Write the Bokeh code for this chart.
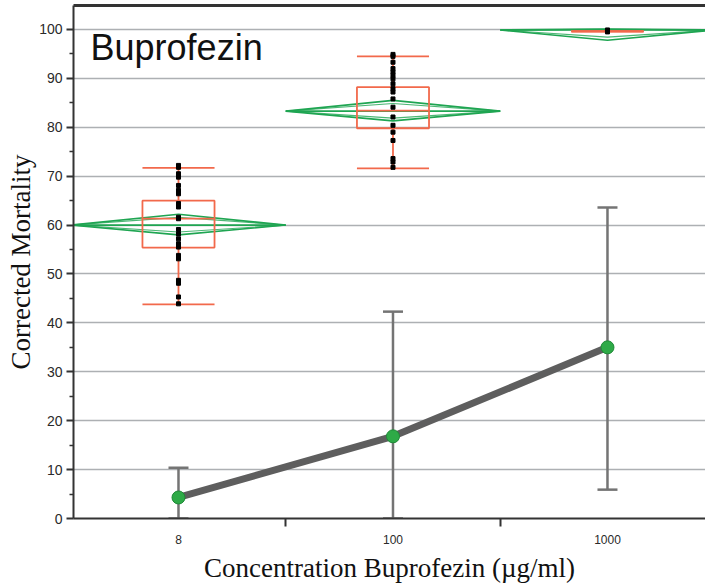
import math
from bokeh.plotting import figure
from bokeh.models import FixedTicker, LinearAxis, Range1d, Whisker, TeeHead, ColumnDataSource, Label
from bokeh.embed import file_html
from bokeh.resources import INLINE

# ---------------- data ----------------
categories = ["8", "100", "1000"]

# box plots (corrected mortality)
whisker_low = [43.8, 71.6, 99.6]
q1 = [55.4, 79.8, 99.6]
median = [61.3, 83.4, 99.6]
q3 = [65.0, 88.2, 99.6]
whisker_high = [71.7, 94.5, 99.6]

# means diamonds
means = [60.0, 83.3, 99.9]
ci_upper = [62.2, 85.5, 100.1]
ci_lower = [58.0, 81.3, 97.8]

# raw observations
obs_8 = [72.2, 71.8, 70.5, 69.8, 68.1, 67.1, 66.4, 64.4, 63.7, 61.6, 61.3,
         59.1, 58.2, 57.2, 56.2, 55.5, 53.8, 53.1, 48.7, 48.1, 45.3, 43.9]
obs_100 = [94.9, 94.5, 93.3, 92.0, 91.3, 90.6, 89.9, 88.9, 87.9, 87.2, 85.8,
           84.1, 82.1, 80.4, 79.0, 77.3, 73.6, 72.9, 71.8]
obs_1000 = [99.5, 99.9]

# line series with error bars
line_mean = [4.3, 16.8, 35.0]
err_low = [0.0, 0.0, 5.9]
err_high = [10.4, 42.3, 63.6]

# ---------------- figure ----------------
xpos = list(range(len(categories)))
box_half = 0.168

p = figure(frame_width=632, frame_height=513, output_backend="svg", toolbar_location=None,
           x_range=Range1d(-0.4895, 2.457), y_range=Range1d(0, 104.9),
           min_border_left=73, min_border_right=0, min_border_top=5, min_border_bottom=70,
           background_fill_color="white", border_fill_color="white")
p.outline_line_color = None

# grid
p.xgrid.grid_line_color = None
p.ygrid.grid_line_color = "#adb0b3"
p.ygrid.grid_line_width = 1.5

# axes
p.yaxis.ticker = FixedTicker(ticks=list(range(0, 101, 10)), minor_ticks=list(range(5, 100, 10)))
p.yaxis.axis_label = "Corrected Mortality"
p.xaxis.ticker = FixedTicker(ticks=xpos, minor_ticks=[0.5, 1.5])
p.xaxis.major_label_overrides = {i: c for i, c in enumerate(categories)}
p.xaxis.axis_label = "Concentration Buprofezin (\u00b5g/ml)"
for ax in (p.xaxis[0], p.yaxis[0]):
    ax.axis_line_color = "#333333"
    ax.axis_line_width = 2
    ax.axis_label_text_font = "Liberation Serif"
    ax.axis_label_text_font_style = "normal"
    ax.axis_label_text_font_size = "27px"
    ax.axis_label_text_color = "#111111"
    ax.major_label_text_font = "Liberation Sans"
    ax.major_label_text_color = "#2a2a2a"
p.yaxis.major_label_text_font_size = "14px"
p.yaxis.major_tick_line_color = "#333333"
p.yaxis.major_tick_line_width = 2
p.yaxis.major_tick_out = 7
p.yaxis.major_tick_in = 0
p.yaxis.minor_tick_line_color = "#333333"
p.yaxis.minor_tick_line_width = 1.5
p.yaxis.minor_tick_out = 4
p.yaxis.minor_tick_in = 0
p.yaxis.major_label_standoff = 4
p.yaxis.axis_label_standoff = 0

p.xaxis.major_tick_line_color = None
p.xaxis.major_tick_out = 0
p.xaxis.major_tick_in = 0
p.xaxis.minor_tick_line_color = "#333333"
p.xaxis.minor_tick_line_width = 2
p.xaxis.minor_tick_out = 8
p.xaxis.minor_tick_in = 0
p.xaxis.major_label_text_font_size = "12px"
p.xaxis.major_label_standoff = 8
p.xaxis.axis_label_standoff = 6

top = LinearAxis(ticker=FixedTicker(ticks=[]), axis_line_color="#333333", axis_line_width=3,
                 major_tick_line_color=None, minor_tick_line_color=None,
                 major_tick_out=0, major_tick_in=0, major_label_standoff=0)
p.add_layout(top, "above")

# means diamonds
green = "#1fa552"
dxs, dys, ixs, iys = [], [], [], []
for x, m, hi, lo in zip(xpos, means, ci_upper, ci_lower):
    dxs.append([x - 0.5, x, x + 0.5, x])
    dys.append([m, hi, m, lo])
    ih = m + (hi - m) / math.sqrt(2)
    il = m - (m - lo) / math.sqrt(2)
    ixs.append([x - 0.5, x, x + 0.5, x])
    iys.append([m, ih, m, il])
p.patches(dxs, dys, fill_color=None, line_color=green, line_width=1.6)
p.patches(ixs, iys, fill_color=None, line_color=green, line_width=1.2, line_alpha=0.8)
p.segment(x0=[x - 0.5 for x in xpos], y0=means, x1=[x + 0.5 for x in xpos], y1=means,
          line_color=green, line_width=1.6)

# box plots
orange = "#f2694b"
bl = [x - box_half for x in xpos]
br = [x + box_half for x in xpos]
p.quad(left=bl, right=br, bottom=q1, top=q3, fill_color=None, line_color=orange, line_width=1.8)
p.segment(x0=xpos, y0=q3, x1=xpos, y1=whisker_high, line_color=orange, line_width=1.8)
p.segment(x0=xpos, y0=q1, x1=xpos, y1=whisker_low, line_color=orange, line_width=1.8)
p.segment(x0=bl, y0=whisker_high, x1=br, y1=whisker_high, line_color=orange, line_width=1.8)
p.segment(x0=bl, y0=whisker_low, x1=br, y1=whisker_low, line_color=orange, line_width=1.8)
p.segment(x0=bl, y0=median, x1=br, y1=median, line_color=orange, line_width=1.8)

# observations
ox, oy = [], []
for x, obs in zip(xpos, [obs_8, obs_100, obs_1000]):
    ox += [x] * len(obs)
    oy += obs
p.scatter(ox, oy, marker="square", size=4, color="black")

# line with error bars
src = ColumnDataSource(dict(x=xpos, m=line_mean, lo=err_low, hi=err_high))
w = Whisker(base="x", lower="lo", upper="hi", source=src, line_color="#747474", line_width=2.5,
            upper_head=TeeHead(size=20, line_color="#747474", line_width=2.5),
            lower_head=TeeHead(size=20, line_color="#747474", line_width=2.5))
p.add_layout(w)
p.line("x", "m", source=src, line_width=7, line_color="#5e5e5e")
p.scatter("x", "m", source=src, size=13, fill_color="#2eaa47", line_color="#1f8a37", line_width=1)

p.add_layout(Label(x=-0.41, y=92.2, text="Buprofezin", text_font="Liberation Sans",
                   text_font_size="36px", text_color="#111111"))

open("out.html", "w").write(file_html(p, INLINE))
